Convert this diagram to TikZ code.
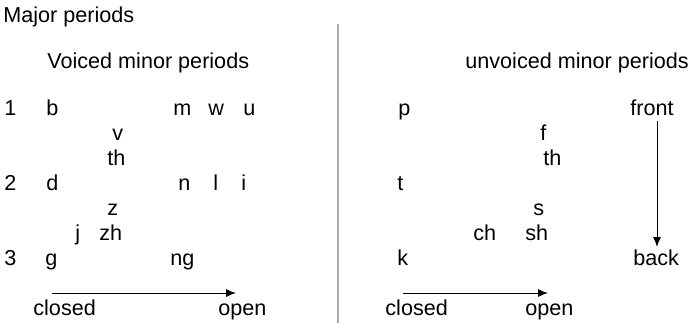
\documentclass[tikz,border=0pt]{standalone}
\usepackage{fontspec}
\setmainfont{Liberation Sans}
\usetikzlibrary{arrows.meta}

\begin{document}
\begin{tikzpicture}[
    x=0.5pt, y=-0.5pt, % one unit per pixel, y grows downwards
    > = {Latex[length=5pt,width=4pt]}, % arrow head style
    every node/.style={inner sep=0pt, anchor=base west,
        font=\fontsize{10.8}{13}\selectfont},
    axis/.style={->, line width=0.5pt},
    divider/.style={draw=gray!65, line width=0.65pt},
]
\useasboundingbox (0,0) rectangle (690,323);

% headings
\node (major) at (3,22) {Major periods};
\node (voiced) at (47,68) {Voiced minor periods};
\node (unvoiced) at (465,68) {unvoiced minor periods};

% voiced half
\node (n1) at (4,115) {1};
\node (n2) at (4,190) {2};
\node (n3) at (4,265) {3};
\node (b) at (46,115) {b};
\node (m) at (173,115) {m};
\node (w) at (208,115) {w};
\node (u) at (243,115) {u};
\node (v) at (112,140) {v};
\node (thv) at (107,165) {th};
\node (d) at (46,190) {d};
\node (n) at (178,190) {n};
\node (l) at (213,190) {l};
\node (i) at (241,190) {i};
\node (z) at (107,215) {z};
\node (j) at (75,240) {j};
\node (zh) at (99,240) {zh};
\node (g) at (45,265) {g};
\node (ng) at (170,265) {ng};
\node (closedv) at (33,315) {closed};
\node (openv) at (218,315) {open};

% unvoiced half
\node (p) at (398,115) {p};
\node (front) at (630,115) {front};
\node (f) at (540,140) {f};
\node (thu) at (543,165) {th};
\node (t) at (397,190) {t};
\node (s) at (533,215) {s};
\node (ch) at (473,240) {ch};
\node (sh) at (525,240) {sh};
\node (k) at (397,265) {k};
\node (back) at (633,265) {back};
\node (closedu) at (385,315) {closed};
\node (openu) at (525,315) {open};

% arrows
\coordinate (av0) at (52,293);
\coordinate (av1) at (236,293);
\coordinate (au0) at (403,293);
\coordinate (au1) at (548,293);
\coordinate (fb0) at (657,121);
\coordinate (fb1) at (657,247);
\draw[axis] (av0) -- (av1);
\draw[axis] (au0) -- (au1);
\draw[axis] (fb0) -- (fb1);

% split between the two halves
\coordinate (top) at (338,24);
\coordinate (bot) at (338,323);
\draw[divider] (top) -- (bot);
\end{tikzpicture}
\end{document}
